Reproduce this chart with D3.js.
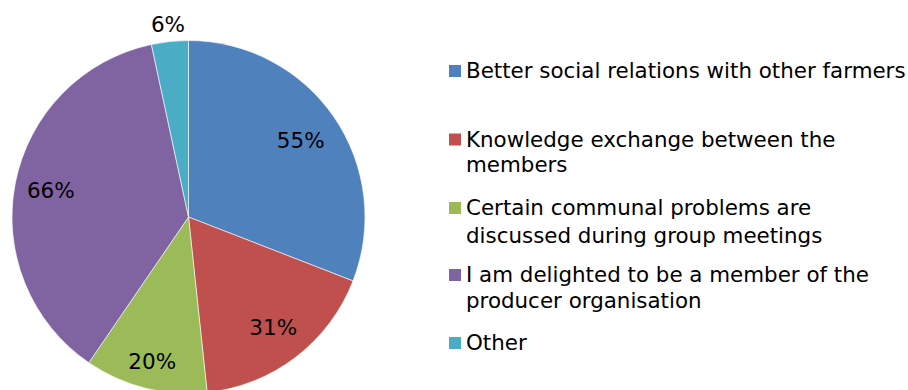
<!DOCTYPE html>
<html><head><meta charset="utf-8">
<script src="https://cdn.jsdelivr.net/npm/d3@7"></script>
<style>body{margin:0;background:#fff;} svg{display:block;}</style>
</head><body>
<svg id="chart" width="908" height="390"></svg>
<script>
const categories = ["Better social relations with other farmers","Knowledge exchange between the members","Certain communal problems are discussed during group meetings","I am delighted to be a member of the producer organisation","Other"];
const legendLines = [["Better social relations with other farmers"],["Knowledge exchange between the","members"],["Certain communal problems are","discussed during group meetings"],["I am delighted to be a member of the","producer organisation"],["Other"]];
const values = [55,31,20,66,6];
const labels = ["55%","31%","20%","66%","6%"];
const colors = ["#4F81BD","#C0504D","#9BBB59","#8064A2","#4BACC6"];

const svg = d3.select("#chart");
const cx = 188.5, cy = 217, r = 176.5;
const font = "'DejaVu Sans', Verdana, sans-serif";
const pie = d3.pie().sort(null).value(d=>d);
const arcs = pie(values);
const arc = d3.arc().innerRadius(0).outerRadius(r);
const g = svg.append("g").attr("transform",`translate(${cx},${cy})`);
g.selectAll("path").data(arcs).enter().append("path")
  .attr("d",arc).attr("fill",(d,i)=>colors[i]).attr("stroke","#fff").attr("stroke-width",0.6);

const labelRad = [0.77,0.79,0.84,0.795,1.1];
g.selectAll("text.lbl").data(arcs).enter().append("text")
  .attr("class","lbl")
  .attr("transform",(d,i)=>{const c=d3.arc().innerRadius(r*labelRad[i]).outerRadius(r*labelRad[i]).centroid(d); return `translate(${c[0]},${c[1]})`;})
  .attr("text-anchor","middle").attr("dy","0.36em")
  .style("font-family",font).style("font-size","21.5px").attr("fill","#000")
  .text((d,i)=>labels[i]);

const rowTops = [65,133.5,202,269,337];
const lineGap = [0,25.7,28,26,0];
const lg = svg.append("g");
categories.forEach((c,i)=>{
  lg.append("rect").attr("x",449).attr("y",rowTops[i]).attr("width",12).attr("height",12).attr("fill",colors[i]);
  const t = lg.append("text").attr("x",466).attr("y",rowTops[i]+13)
    .style("font-family",font).style("font-size","21.4px").attr("fill","#000");
  legendLines[i].forEach((ln,j)=>{
    t.append("tspan").attr("x",466).attr("dy",j===0?0:lineGap[i]).text(ln);
  });
});
</script>
</body></html>
